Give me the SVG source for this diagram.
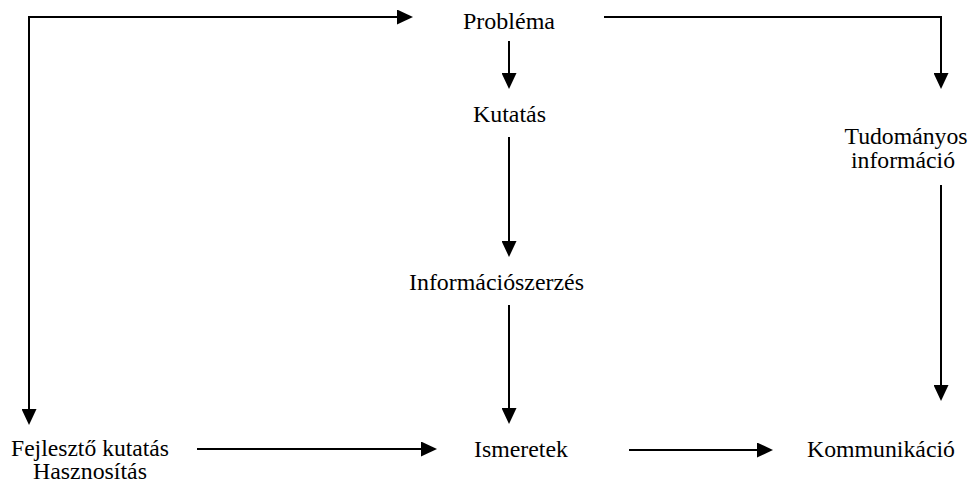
<svg xmlns="http://www.w3.org/2000/svg" width="975" height="488" viewBox="0 0 975 488">
<style>
text{font-family:"Liberation Serif","Times New Roman",serif;font-size:23px;fill:#000;text-anchor:middle}
.c{fill:none;stroke:#000;stroke-width:2}
</style>
<defs>
<marker id="ah" markerUnits="userSpaceOnUse" markerWidth="16" markerHeight="15" refX="13" refY="7.5" orient="auto-start-reverse" viewBox="0 0 16 15">
<path d="M0,0 L16,7.5 L0,15 z" fill="#000"/>
</marker>
</defs>
<rect width="975" height="488" fill="#fff"/>
<g id="connectors">
<path class="c" d="M29,422 V17 H410" marker-start="url(#ah)" marker-end="url(#ah)"/>
<path class="c" d="M604,17 H941 V86" marker-end="url(#ah)"/>
<path class="c" d="M509,41 V86" marker-end="url(#ah)"/>
<path class="c" d="M509,137 V254" marker-end="url(#ah)"/>
<path class="c" d="M509,305 V421" marker-end="url(#ah)"/>
<path class="c" d="M941,185 V398" marker-end="url(#ah)"/>
<path class="c" d="M197,449 H434" marker-end="url(#ah)"/>
<path class="c" d="M629,450 H770" marker-end="url(#ah)"/>
</g>
<g id="problema"><text x="509" y="29" textLength="92" lengthAdjust="spacingAndGlyphs">Probléma</text></g>
<g id="kutatas"><text x="509.5" y="122" textLength="73" lengthAdjust="spacingAndGlyphs">Kutatás</text></g>
<g id="informacioszerzes"><text x="496.5" y="290" textLength="175" lengthAdjust="spacingAndGlyphs">Információszerzés</text></g>
<g id="ismeretek"><text x="521" y="457" textLength="94" lengthAdjust="spacingAndGlyphs">Ismeretek</text></g>
<g id="tudomanyos"><text x="906" y="144" textLength="123" lengthAdjust="spacingAndGlyphs">Tudományos</text><text x="903" y="168" textLength="104" lengthAdjust="spacingAndGlyphs">információ</text></g>
<g id="fejleszto"><text x="90" y="456" textLength="158" lengthAdjust="spacingAndGlyphs">Fejlesztő kutatás</text><text x="90" y="479" textLength="114" lengthAdjust="spacingAndGlyphs">Hasznosítás</text></g>
<g id="kommunikacio"><text x="881" y="457" textLength="148" lengthAdjust="spacingAndGlyphs">Kommunikáció</text></g>
</svg>
